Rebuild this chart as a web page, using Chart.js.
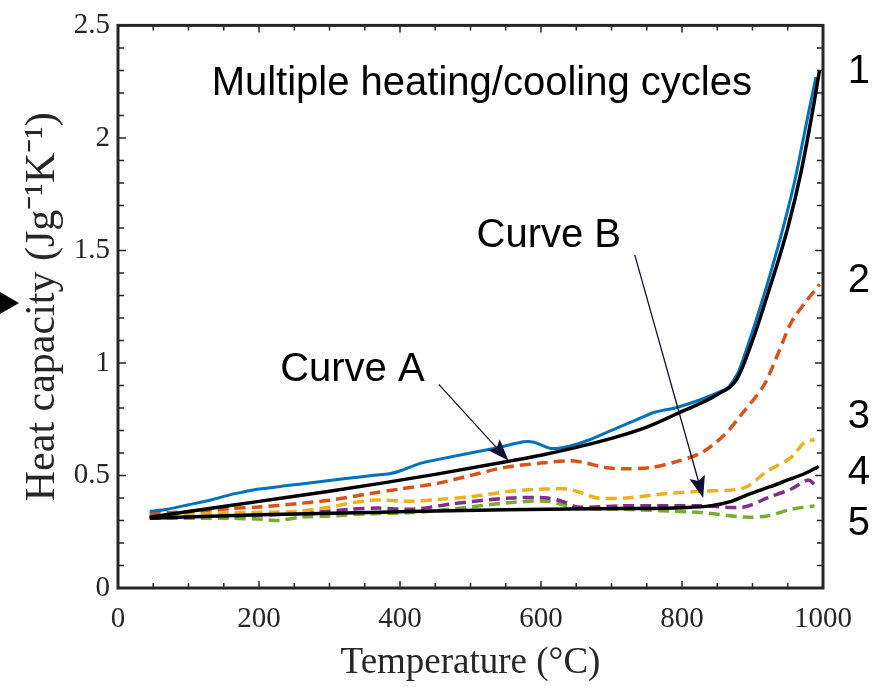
<!DOCTYPE html>
<html>
<head>
<meta charset="utf-8">
<script src="https://cdn.jsdelivr.net/npm/chart.js@4.4.1/dist/chart.umd.min.js"></script>
<style>
  html, body { margin: 0; padding: 0; background: #fff; }
  #wrap { width: 881px; height: 689px; }
</style>
</head>
<body>
<div id="wrap"><canvas id="cp"></canvas></div>
<script>
// heating cycle 1 (measured, solid blue)
var blueT = [45, 70, 100, 130, 160, 175, 200, 240, 280, 320, 360, 385, 400, 430, 460, 500, 540, 575, 590, 614, 640, 670, 700, 730, 760, 790, 820, 845, 865, 880, 900, 920, 940, 960, 980, 990];
var blueV = [0.34, 0.35, 0.37, 0.39, 0.415, 0.425, 0.44, 0.455, 0.47, 0.485, 0.50, 0.508, 0.52, 0.555, 0.575, 0.60, 0.625, 0.65, 0.648, 0.62, 0.63, 0.66, 0.70, 0.74, 0.78, 0.80, 0.83, 0.86, 0.89, 0.96, 1.14, 1.34, 1.56, 1.81, 2.12, 2.27];

// cycles 2..5 (dashed)
var orangeT = [45, 100, 159, 200, 254, 300, 358, 400, 453, 500, 547, 600, 642, 665, 690, 720, 756, 790, 827, 860, 884, 916, 936, 955, 975, 988, 995];
var orangeV = [0.33, 0.34, 0.353, 0.36, 0.375, 0.39, 0.42, 0.44, 0.465, 0.50, 0.535, 0.555, 0.565, 0.555, 0.535, 0.53, 0.535, 0.56, 0.60, 0.68, 0.77, 0.90, 1.04, 1.18, 1.27, 1.32, 1.35];

var yellowT = [45, 100, 159, 254, 300, 358, 419, 460, 500, 557, 609, 638, 660, 680, 720, 780, 827, 888, 921, 955, 973, 988];
var yellowV = [0.32, 0.33, 0.335, 0.34, 0.36, 0.39, 0.385, 0.395, 0.405, 0.43, 0.44, 0.44, 0.42, 0.40, 0.40, 0.42, 0.43, 0.445, 0.52, 0.58, 0.645, 0.66];

var purpleT = [45, 159, 254, 330, 370, 419, 476, 557, 609, 635, 652, 713, 827, 888, 921, 955, 979, 988];
var purpleV = [0.315, 0.32, 0.33, 0.35, 0.355, 0.35, 0.375, 0.40, 0.40, 0.38, 0.36, 0.365, 0.365, 0.36, 0.40, 0.44, 0.48, 0.46];

var greenT = [45, 159, 206, 227, 260, 300, 358, 419, 500, 557, 609, 652, 713, 827, 888, 921, 955, 988];
var greenV = [0.31, 0.31, 0.305, 0.30, 0.315, 0.32, 0.33, 0.335, 0.36, 0.38, 0.385, 0.355, 0.35, 0.335, 0.315, 0.32, 0.35, 0.365];

// fitted curves (solid black)
var curveAT = [45, 100, 200, 300, 372, 450, 557, 600, 650, 700, 750, 800, 850, 878, 900, 921, 950, 969, 987, 995];
var curveAV = [0.315, 0.34, 0.385, 0.43, 0.465, 0.505, 0.565, 0.59, 0.625, 0.665, 0.715, 0.785, 0.86, 0.93, 1.10, 1.30, 1.60, 1.85, 2.15, 2.30];

var curveBT = [45, 200, 372, 550, 713, 800, 840, 870, 898, 925, 950, 975, 994];
var curveBV = [0.31, 0.325, 0.337, 0.348, 0.353, 0.357, 0.365, 0.385, 0.42, 0.45, 0.48, 0.51, 0.54];

var cycleLabels = ['1', '2', '3', '4', '5'];
var cycleLabelV = [2.245, 1.316, 0.71, 0.464, 0.234];

function pts(t, v) {
    var out = [];
    for (var i = 0; i < t.length; i++) out.push({ x: t[i], y: v[i] });
    return out;
}

function dashed(label, t, v, color, ord) {
    return {
        label: label, data: pts(t, v), borderColor: color, borderWidth: 3.5,
        borderDash: [11, 6], pointRadius: 0, tension: 0.3, order: ord
    };
}

var axisColor = '#262626';
var serif = '"Liberation Serif", "Times New Roman", serif';

// box + inward ticks on all four sides
var boxPlugin = {
    id: 'box',
    afterDatasetsDraw: function (chart) {
        var ctx = chart.ctx, a = chart.chartArea;
        var xs = chart.scales.x, ys = chart.scales.y;
        ctx.save();
        ctx.strokeStyle = axisColor;
        ctx.lineWidth = 1.5;
        ctx.beginPath();
        for (var t = 0; t <= 1000; t += 50) {
            var px = xs.getPixelForValue(t);
            var len = (t % 200 === 0) ? 7 : 5;
            ctx.moveTo(px, a.bottom); ctx.lineTo(px, a.bottom - len);
            ctx.moveTo(px, a.top); ctx.lineTo(px, a.top + len);
        }
        for (var k = 0; k <= 25; k++) {
            var py = ys.getPixelForValue(k / 10);
            var l2 = (k % 5 === 0) ? 8 : 6;
            ctx.moveTo(a.left, py); ctx.lineTo(a.left + l2, py);
            ctx.moveTo(a.right, py); ctx.lineTo(a.right - l2, py);
        }
        ctx.stroke();
        ctx.lineWidth = 3;
        ctx.strokeRect(a.left, a.top, a.right - a.left, a.bottom - a.top);
        ctx.restore();
    }
};

function arrow(ctx, x1, y1, x2, y2) {
    var ang = Math.atan2(y2 - y1, x2 - x1);
    var hl = 22, hw = 8;
    ctx.beginPath();
    ctx.moveTo(x1, y1);
    ctx.lineTo(x2 - Math.cos(ang) * hl * 0.8, y2 - Math.sin(ang) * hl * 0.8);
    ctx.stroke();
    ctx.beginPath();
    ctx.moveTo(x2, y2);
    ctx.lineTo(x2 - Math.cos(ang) * hl + Math.sin(ang) * hw, y2 - Math.sin(ang) * hl - Math.cos(ang) * hw);
    ctx.lineTo(x2 - Math.cos(ang) * hl * 0.8, y2 - Math.sin(ang) * hl * 0.8);
    ctx.lineTo(x2 - Math.cos(ang) * hl - Math.sin(ang) * hw, y2 - Math.sin(ang) * hl + Math.cos(ang) * hw);
    ctx.closePath();
    ctx.fill();
}

var notePlugin = {
    id: 'notes',
    afterDraw: function (chart) {
        var ctx = chart.ctx;
        var xs = chart.scales.x, ys = chart.scales.y;
        function X(t) { return xs.getPixelForValue(t); }
        function Y(v) { return ys.getPixelForValue(v); }
        ctx.save();
        ctx.fillStyle = '#000';
        ctx.font = '40px "Liberation Sans", Arial, sans-serif';
        ctx.textBaseline = 'alphabetic';
        ctx.textAlign = 'center';
        ctx.fillText('Multiple heating/cooling cycles', X(516), Y(2.19));
        ctx.textAlign = 'left';
        ctx.fillText('Curve A', X(230), Y(0.92));
        ctx.fillText('Curve B', X(508.5), Y(1.515));
        ctx.textAlign = 'center';
        for (var i = 0; i < cycleLabels.length; i++) {
            ctx.fillText(cycleLabels[i], X(1051), Y(cycleLabelV[i]));
        }
        ctx.strokeStyle = '#10103a';
        ctx.fillStyle = '#10103a';
        ctx.lineWidth = 1.3;
        arrow(ctx, X(455), Y(0.905), X(554), Y(0.565));
        arrow(ctx, X(733), Y(1.48), X(830), Y(0.40));
        // marker cut at the left edge of the figure
        ctx.fillStyle = '#000';
        ctx.beginPath();
        ctx.moveTo(0, 292); ctx.lineTo(19, 303); ctx.lineTo(0, 314);
        ctx.closePath();
        ctx.fill();
        ctx.restore();
    }
};

new Chart(document.getElementById('cp'), {
    type: 'line',
    data: {
        datasets: [
            { label: 'Curve A', data: pts(curveAT, curveAV), borderColor: '#000', borderWidth: 3.5, pointRadius: 0, cubicInterpolationMode: 'monotone', order: 0 },
            { label: 'Curve B', data: pts(curveBT, curveBV), borderColor: '#000', borderWidth: 3.5, pointRadius: 0, cubicInterpolationMode: 'monotone', order: 0 },
            { label: 'Cycle 1', data: pts(blueT, blueV), borderColor: '#0072BD', borderWidth: 3, pointRadius: 0, tension: 0.2, order: 1 },
            dashed('Cycle 2', orangeT, orangeV, '#D95319', 2),
            dashed('Cycle 3', yellowT, yellowV, '#EDB120', 3),
            dashed('Cycle 4', purpleT, purpleV, '#7E2F8E', 4),
            dashed('Cycle 5', greenT, greenV, '#77AC30', 5)
        ]
    },
    options: {
        responsive: true,
        maintainAspectRatio: false,
        animation: false,
        layout: { padding: { top: 22, right: 58, left: 0, bottom: 0 } },
        plugins: { legend: { display: false }, tooltip: { enabled: false } },
        scales: {
            x: {
                type: 'linear', min: 0, max: 1000,
                afterFit: function (s) { s.height = 101; },
                grid: { display: false, drawTicks: false },
                border: { display: false },
                ticks: { stepSize: 200, padding: 14, color: axisColor, font: { family: serif, size: 29 },
                    callback: function (v) { return String(v); } },
                title: { display: true, text: 'Temperature (\u00B0C)', color: axisColor, padding: { top: 0, bottom: 4 }, font: { family: serif, size: 37 } }
            },
            y: {
                min: 0, max: 2.5,
                afterFit: function (s) { s.width = 118; },
                grid: { display: false, drawTicks: false },
                border: { display: false },
                ticks: { stepSize: 0.5, padding: 8, color: axisColor, font: { family: serif, size: 29 },
                    callback: function (v) { return String(v); } },
                title: { display: true, text: 'Heat capacity (Jg\u207B\u00B9K\u207B\u00B9)', color: axisColor, padding: { top: 18, bottom: 0 }, font: { family: serif, size: 42 } }
            }
        }
    },
    plugins: [boxPlugin, notePlugin]
});
</script>
</body>
</html>
